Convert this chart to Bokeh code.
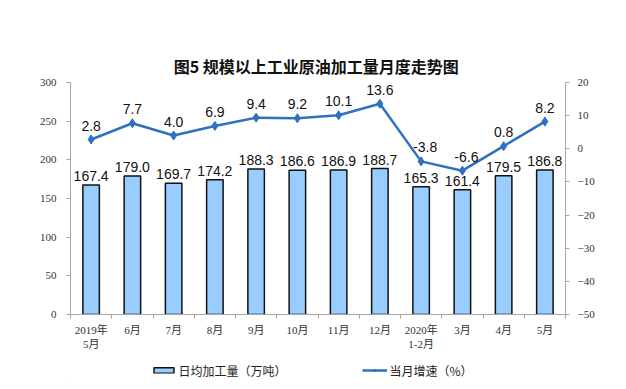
from bokeh.plotting import figure
from bokeh.layouts import column
from bokeh.models import (Range1d, LinearAxis, FixedTicker, ColumnDataSource,
                          Legend, LegendItem)
from bokeh.core.properties import value
from bokeh.embed import file_html
from bokeh.resources import INLINE

categories = ["2019年\n5月", "6月", "7月", "8月", "9月", "10月", "11月", "12月",
              "2020年\n1-2月", "3月", "4月", "5月"]
daily_output = [167.4, 179.0, 169.7, 174.2, 188.3, 186.6, 186.9, 188.7, 165.3, 161.4, 179.5, 186.8]
growth = [2.8, 7.7, 4.0, 6.9, 9.4, 9.2, 10.1, 13.6, -3.8, -6.6, 0.8, 8.2]
left_ticks = [0, 50, 100, 150, 200, 250, 300]
right_ticks = [20, 10, 0, -10, -20, -30, -40, -50]
bar_name = "日均加工量（万吨）"
line_name = "当月增速（%）"

BAR_FILL = "#99CCFF"
BAR_LINE = "#111111"
LINE_COLOR = "#3070C0"

xs = list(range(len(categories)))
src = ColumnDataSource(dict(
    x=xs, bar=daily_output, g=growth,
    bar_lbl=[f"{v:.1f}" for v in daily_output],
    g_lbl=[f"{v:.1f}" for v in growth],
    g_dx=[4 if v < 0 else 0 for v in growth],
))

p = figure(frame_width=495, frame_height=232, output_backend="svg", toolbar_location=None,
           x_range=Range1d(-0.5, len(categories) - 0.5), y_range=Range1d(0, 300),
           min_border_left=70, min_border_right=53, min_border_top=82,
           min_border_bottom=45, outline_line_color=None,
           title="图5  规模以上工业原油加工量月度走势图")
p.title.align = "center"
p.title.text_font = "Noto Sans CJK SC"
p.title.text_font_size = "16px"
p.title.text_font_style = "bold"
p.title.text_color = "#111111"
p.title.offset = 4

p.extra_y_ranges = {"g": Range1d(-50, 20)}

serif = "'Liberation Serif', 'Noto Sans CJK SC'"

# axes
p.xaxis.ticker = FixedTicker(ticks=xs, minor_ticks=[i - 0.5 for i in range(len(categories) + 1)])
p.xaxis.major_label_overrides = {i: c for i, c in enumerate(categories)}
p.xaxis.major_tick_line_color = None
p.xaxis.minor_tick_line_color = "#C0A080"
p.xaxis.minor_tick_in = 0
p.xaxis.minor_tick_out = 4
p.xaxis.axis_line_color = "#A6A6A6"
p.xaxis.major_label_text_font = serif
p.xaxis.major_label_text_font_size = "11px"
p.xaxis.major_label_text_color = "#333333"
p.xaxis.major_label_standoff = 3

p.yaxis.ticker = FixedTicker(ticks=left_ticks)
p.yaxis.minor_tick_line_color = None
p.yaxis.axis_line_color = "#A6A6A6"
p.yaxis.major_tick_line_color = "#A6A6A6"
p.yaxis.major_tick_in = 0
p.yaxis.major_tick_out = 4
p.yaxis.major_label_text_font = serif
p.yaxis.major_label_text_font_size = "11px"
p.yaxis.major_label_text_color = "#333333"
p.yaxis.major_label_standoff = 10

ra = LinearAxis(y_range_name="g", ticker=FixedTicker(ticks=right_ticks))
ra.minor_tick_line_color = None
ra.axis_line_color = "#A6A6A6"
ra.major_tick_line_color = "#A6A6A6"
ra.major_tick_in = 0
ra.major_tick_out = 4
ra.major_label_text_font = serif
ra.major_label_text_font_size = "11px"
ra.major_label_text_color = "#333333"
ra.major_label_standoff = 8
p.add_layout(ra, "right")

p.xgrid.grid_line_color = None
p.ygrid.grid_line_color = None

p.vbar(x="x", top="bar", width=0.4, source=src, fill_color=BAR_FILL,
       line_color=BAR_LINE, line_width=1.5)
p.line(x="x", y="g", source=src, y_range_name="g", line_color=LINE_COLOR, line_width=2.5)
p.scatter(x="x", y="g", source=src, y_range_name="g", marker="diamond", size=9,
          fill_color=LINE_COLOR, line_color=LINE_COLOR)

p.text(x="x", y="bar", text="bar_lbl", source=src, text_align="center",
       text_baseline="bottom", y_offset=-4, text_font=value("Liberation Sans"),
       text_font_size="14px", text_color="#111111")
p.text(x="x", y="g", text="g_lbl", source=src, y_range_name="g", text_align="center",
       x_offset="g_dx", text_baseline="bottom", y_offset=-9, text_font=value("Liberation Sans"),
       text_font_size="14px", text_color="#111111")

# separate strip holding the legend; its proxy glyphs sit outside the visible range
lg = figure(width=606, height=22, output_backend="svg", toolbar_location=None,
            x_range=Range1d(0, 1), y_range=Range1d(0, 1), min_border=0,
            outline_line_color=None)
lg.axis.visible = False
lg.grid.visible = False
proxy = ColumnDataSource(dict(x=[-10, -11], y=[-10, -10], top=[-10, -10]))
rb = lg.vbar(x="x", top="top", width=0.4, source=proxy, fill_color=BAR_FILL,
             line_color=BAR_LINE, line_width=1.5)
rl = lg.line(x="x", y="y", source=proxy, line_color=LINE_COLOR, line_width=2.5)
rs = lg.scatter(x="x", y="y", source=proxy, marker="diamond", size=6,
                fill_color=LINE_COLOR, line_color=LINE_COLOR)
legend = Legend(items=[LegendItem(label=bar_name, renderers=[rb], index=0),
                       LegendItem(label=line_name, renderers=[rl, rs], index=0)],
                orientation="horizontal", location="center", spacing=75,
                glyph_width=25, glyph_height=7, label_standoff=3,
                label_text_font="Noto Sans CJK SC", label_text_font_size="12px",
                label_text_color="#222222", border_line_color=None,
                background_fill_alpha=0, padding=0, margin=0)
lg.add_layout(legend, "center")

layout = column(p, lg, spacing=0)
open("out.html", "w").write(file_html(layout, INLINE))
